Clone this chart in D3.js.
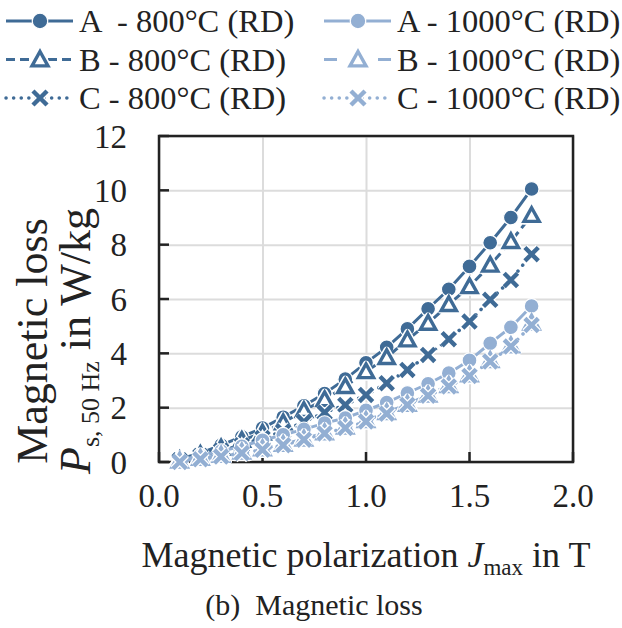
<!DOCTYPE html>
<html>
<head>
  <meta charset="utf-8">
  <script src="https://d3js.org/d3.v7.min.js"></script>
  <style>
    body { margin: 0; background: #fff; }
    svg text { font-family: "Liberation Serif", "DejaVu Serif", serif; fill: #222; }
    .grid line { stroke: #dcdcdc; stroke-width: 2px; }
    .grid .domain { stroke: none; }
  </style>
</head>
<body>
  <svg id="chart" width="622" height="628"></svg>
  <script>
    // data
    const jmax = [0.1, 0.2, 0.3, 0.4, 0.5, 0.6, 0.7, 0.8, 0.9, 1.0, 1.1, 1.2, 1.3, 1.4, 1.5, 1.6, 1.7, 1.8];
    const a800 = [0.10, 0.33, 0.62, 0.93, 1.25, 1.65, 2.07, 2.52, 3.05, 3.65, 4.22, 4.90, 5.64, 6.36, 7.20, 8.07, 9.00, 10.05];
    const b800 = [0.08, 0.28, 0.52, 0.80, 1.07, 1.45, 1.90, 2.30, 2.78, 3.33, 3.85, 4.50, 5.11, 5.80, 6.46, 7.25, 8.12, 9.08];
    const c800 = [0.06, 0.22, 0.42, 0.62, 0.88, 1.13, 1.48, 1.82, 2.10, 2.47, 2.90, 3.39, 3.94, 4.52, 5.17, 5.97, 6.70, 7.65];
    const a1000 = [0.07, 0.24, 0.40, 0.58, 0.80, 1.00, 1.20, 1.43, 1.62, 1.90, 2.19, 2.54, 2.88, 3.27, 3.74, 4.37, 4.96, 5.74];
    const b1000 = [0.04, 0.14, 0.25, 0.37, 0.49, 0.65, 0.85, 1.08, 1.29, 1.53, 1.82, 2.13, 2.47, 2.82, 3.21, 3.74, 4.28, 5.12];
    const c1000 = [0.00, 0.10, 0.20, 0.33, 0.45, 0.62, 0.82, 1.05, 1.25, 1.49, 1.78, 2.10, 2.44, 2.78, 3.17, 3.70, 4.25, 5.04];
    const xTicks = [0, 0.5, 1.0, 1.5, 2.0];
    const yTicks = [0, 2, 4, 6, 8, 10, 12];
    const labels = ["A  - 800°C (RD)", "B - 800°C (RD)", "C - 800°C (RD)",
                    "A - 1000°C (RD)", "B - 1000°C (RD)", "C - 1000°C (RD)"];

    const FONT = '"Liberation Serif", "DejaVu Serif", serif';
    const dark = "#3f6b96", light = "#93afd3";
    const series = [
      { values: a800, color: dark, dash: null, marker: "circle" },
      { values: b800, color: dark, dash: "9,5", marker: "triangle" },
      { values: c800, color: dark, dash: "0.1,7.5", marker: "cross" },
      { values: a1000, color: light, dash: null, marker: "circle" },
      { values: b1000, color: light, dash: "13,14", marker: "triangle" },
      { values: c1000, color: light, dash: "0.1,7.5", marker: "cross" }
    ];

    const svg = d3.select("#chart").attr("font-family", FONT).style("font-family", FONT);
    const margin = { left: 159, right: 49, top: 136, bottom: 166 };
    const w = 622 - margin.left - margin.right;
    const h = 628 - margin.top - margin.bottom;

    const x = d3.scaleLinear().domain([0, 2]).range([0, w]);
    const y = d3.scaleLinear().domain([0, 12]).range([h, 0]);

    const chart = svg.append("g").attr("transform", `translate(${margin.left},${margin.top})`);

    // gridlines
    chart.append("g").attr("class", "grid")
      .call(d3.axisLeft(y).tickValues(yTicks).tickSize(-w).tickFormat(""));
    chart.append("g").attr("class", "grid").attr("transform", `translate(0,${h})`)
      .call(d3.axisBottom(x).tickValues(xTicks).tickSize(-h).tickFormat(""));

    // frame and inner ticks
    chart.append("rect").attr("width", w).attr("height", h)
      .attr("fill", "none").attr("stroke", "#222").attr("stroke-width", 2.5);
    chart.selectAll("line.ytick").data(yTicks).join("line").attr("class", "ytick")
      .attr("x1", 0).attr("x2", 10).attr("y1", d => y(d)).attr("y2", d => y(d))
      .attr("stroke", "#222").attr("stroke-width", 2.5);
    chart.selectAll("line.xtick").data(xTicks).join("line").attr("class", "xtick")
      .attr("x1", d => x(d)).attr("x2", d => x(d)).attr("y1", h).attr("y2", h - 10)
      .attr("stroke", "#222").attr("stroke-width", 2.5);

    // tick labels
    chart.selectAll("text.ylab").data(yTicks).join("text").attr("class", "ylab")
      .attr("x", -32).attr("y", d => y(d)).attr("dy", "0.35em")
      .attr("text-anchor", "end").attr("font-size", 33).text(d => d);
    chart.selectAll("text.xlab").data(xTicks).join("text").attr("class", "xlab")
      .attr("x", d => x(d)).attr("y", h + 45)
      .attr("text-anchor", "middle").attr("font-size", 33).text(d => d3.format(".1f")(d));

    // markers
    function drawMarker(g, type, color, cx, cy, k = 1) {
      if (type === "circle") {
        g.append("circle").attr("cx", cx).attr("cy", cy).attr("r", 7.4 * k)
          .attr("fill", color).attr("stroke", "#fff").attr("stroke-width", 1.2);
      } else if (type === "triangle") {
        const s = 7.6 * k;
        const pts = [[cx, cy - s], [cx + s, cy + s * 0.8], [cx - s, cy + s * 0.8]];
        g.append("polygon").attr("points", pts.map(p => p.join(",")).join(" "))
          .attr("fill", "#fff").attr("stroke", "#fff").attr("stroke-width", 6.5).attr("stroke-linejoin", "round");
        g.append("polygon").attr("points", pts.map(p => p.join(",")).join(" "))
          .attr("fill", "#fff").attr("stroke", color).attr("stroke-width", 3.4);
      } else {
        const s = 6.7 * k;
        const p = `M${cx - s},${cy - s}L${cx + s},${cy + s}M${cx - s},${cy + s}L${cx + s},${cy - s}`;
        g.append("path").attr("d", p).attr("stroke", "#fff").attr("stroke-width", 7);
        g.append("path").attr("d", p).attr("stroke", color).attr("stroke-width", 4.4);
      }
    }

    const line = d3.line().x(d => x(d[0])).y(d => y(d[1]));

    series.forEach(s => {
      const pts = jmax.map((j, i) => [j, s.values[i]]);
      const g = chart.append("g");
      g.append("path").datum(pts).attr("d", line)
        .attr("fill", "none").attr("stroke", s.color)
        .attr("stroke-width", s.marker === "cross" ? 3.5 : 3)
        .attr("stroke-linecap", s.marker === "cross" ? "round" : "butt")
        .attr("stroke-dasharray", s.dash);
      pts.forEach(p => drawMarker(g, s.marker, s.color, x(p[0]), y(p[1])));
    });

    // legend
    const legend = svg.append("g");
    series.forEach((s, i) => {
      const col = Math.floor(i / 3), row = i % 3;
      const lx = col === 0 ? 6 : 324;
      const ly = 21 + row * 38.5;
      const g = legend.append("g");
      g.append("line").attr("x1", lx).attr("x2", lx + 67).attr("y1", ly).attr("y2", ly)
        .attr("stroke", s.color).attr("stroke-width", s.marker === "cross" ? 3.5 : 3)
        .attr("stroke-linecap", s.marker === "cross" ? "round" : "butt")
        .attr("stroke-dasharray", s.dash);
      drawMarker(g, s.marker, s.color, lx + 34, ly, 1.05);
      g.append("text").attr("x", lx + 73).attr("y", ly + 11)
        .attr("font-size", 32.5).style("white-space", "pre").text(labels[i]);
    });

    // axis titles
    const xt = svg.append("text").attr("x", margin.left + w / 2).attr("y", 567)
      .attr("text-anchor", "middle").attr("font-size", 36);
    xt.append("tspan").text("Magnetic polarization ");
    xt.append("tspan").attr("font-style", "italic").text("J");
    xt.append("tspan").attr("font-size", 23).attr("dy", 8).text("max");
    xt.append("tspan").attr("dy", -8).text(" in T");

    const yt = svg.append("g").attr("transform", "translate(0,341) rotate(-90)");
    yt.append("text").attr("x", 0).attr("y", 47).attr("text-anchor", "middle")
      .attr("font-size", 44).text("Magnetic loss");
    const yt2 = yt.append("text").attr("x", 0).attr("y", 90).attr("text-anchor", "middle")
      .attr("font-size", 44);
    yt2.append("tspan").attr("font-style", "italic").text("P");
    yt2.append("tspan").attr("font-size", 26).attr("dy", 9).text("s, 50 Hz");
    yt2.append("tspan").attr("dy", -9).text(" in W/kg");

    svg.append("text").attr("x", 314).attr("y", 615).attr("text-anchor", "middle")
      .attr("font-size", 30).style("white-space", "pre")
      .text("(b)  Magnetic loss");
  </script>
</body>
</html>
